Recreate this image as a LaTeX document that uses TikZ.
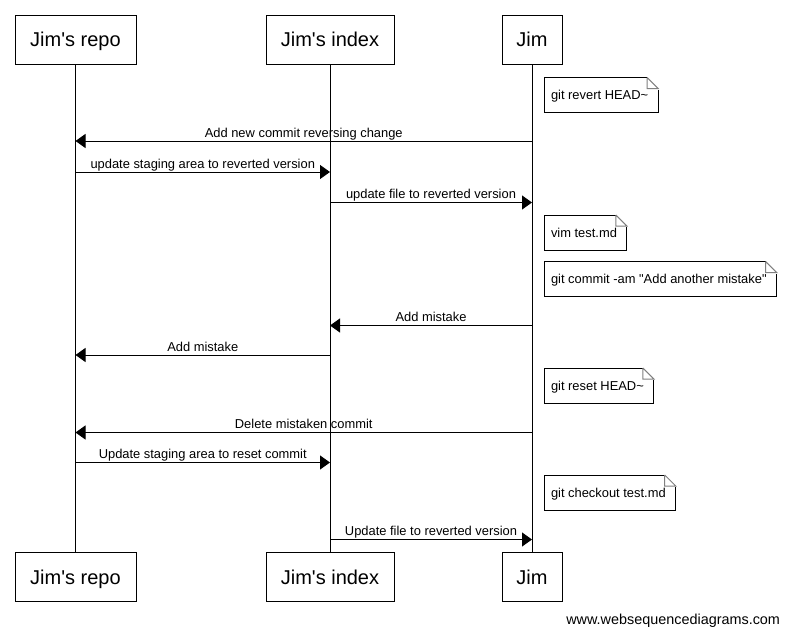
\documentclass[tikz,border=0pt]{standalone}
\usepackage{fontspec}
\setmainfont{Liberation Sans}[Ligatures=TeXOff]
\usetikzlibrary{arrows.meta}

\newcommand{\msgfont}{\fontsize{12.9}{15}\selectfont}
\newcommand{\actorfont}{\fontsize{20}{24}\selectfont}

\begin{document}
\begin{tikzpicture}[x=1pt, y=-1pt, line width=1pt, >={Triangle[length=10pt,width=14pt]},
	actor/.style={draw, minimum height=49pt, inner sep=0pt, text depth=0pt, font=\actorfont},
	lbl/.style={above=3.5pt, inner sep=0pt, text depth=0pt, font=\msgfont},
	notebox/.style={anchor=north west, minimum height=34pt, inner ysep=0pt, inner xsep=6.5pt, text depth=0pt, font=\msgfont, execute at end node={\hspace{3pt}}},
	fold/.style={draw=black!50}]
	\useasboundingbox (0,0) rectangle (785,635);

	% participants, top and bottom
	\node [actor, minimum width=121pt] (repoT) at (75.5,39.5) {Jim's repo};
	\node [actor, minimum width=128pt] (indexT) at (330,39.5) {Jim's index};
	\node [actor, minimum width=60pt] (jimT) at (532,39.5) {Jim};
	\node [actor, minimum width=121pt] (repoB) at (75.5,577) {Jim's repo};
	\node [actor, minimum width=128pt] (indexB) at (330,577) {Jim's index};
	\node [actor, minimum width=60pt] (jimB) at (532,577) {Jim};
	\draw (repoT) -- (repoB);
	\draw (indexT) -- (indexB);
	\draw (jimT) -- (jimB);

	% message rows
	\coordinate (m1) at (0,141);
	\coordinate (m2) at (0,172);
	\coordinate (m3) at (0,202.5);
	\coordinate (m4) at (0,325.5);
	\coordinate (m5) at (0,355);
	\coordinate (m6) at (0,432.5);
	\coordinate (m7) at (0,462.5);
	\coordinate (m8) at (0,539.5);

	\draw [->] (jimT |- m1) -- node [lbl] {Add new commit reversing change} (repoT |- m1);
	\draw [->] (repoT |- m2) -- node [lbl] {update staging area to reverted version} (indexT |- m2);
	\draw [->] (indexT |- m3) -- node [lbl] {update file to reverted version} (jimT |- m3);
	\draw [->] (jimT |- m4) -- node [lbl] {Add mistake} (indexT |- m4);
	\draw [->] (indexT |- m5) -- node [lbl] {Add mistake} (repoT |- m5);
	\draw [->] (jimT |- m6) -- node [lbl] {Delete mistaken commit} (repoT |- m6);
	\draw [->] (repoT |- m7) -- node [lbl] {Update staging area to reset commit} (indexT |- m7);
	\draw [->] (indexT |- m8) -- node [lbl] {Update file to reverted version} (jimT |- m8);

	% notes on Jim
	\node [notebox] (n1) at (544,77.5) {git revert HEAD\textasciitilde};
	\node [notebox] (n2) at (544,215) {vim test.md};
	\node [notebox] (n3) at (544,261.5) {git commit -am "Add another mistake"};
	\node [notebox] (n4) at (544,368) {git reset HEAD\textasciitilde};
	\node [notebox] (n5) at (544,475) {git checkout test.md};
	\foreach \n in {n1,n2,n3,n4,n5} {
		\draw (\n.north east) ++(-11pt,0pt) -- (\n.north west) -- (\n.south west) -- (\n.south east) -- ++(0pt,23pt);
		\draw [fold] (\n.north east) ++(-11pt,0pt) -- ++(0pt,-11pt) -- ++(11pt,0pt) -- ++(-11pt,11pt);
	}

	\node [anchor=base east, inner sep=0pt, font=\fontsize{14.4}{17}\selectfont] (wsd) at (780.5,624) {www.websequencediagrams.com};
\end{tikzpicture}
\end{document}
